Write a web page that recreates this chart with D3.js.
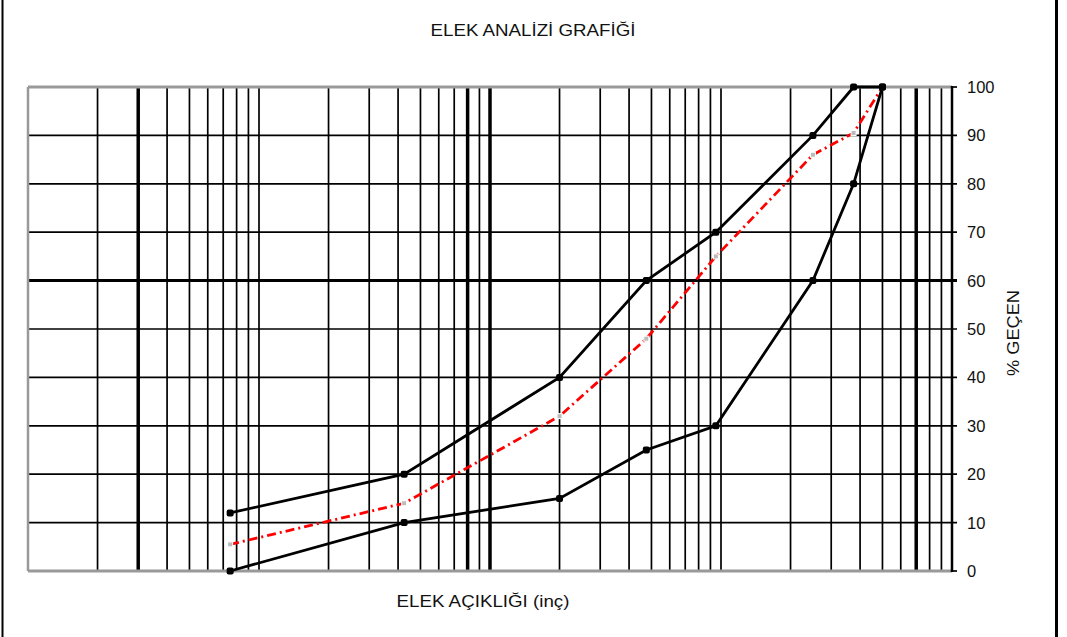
<!DOCTYPE html>
<html>
<head>
  <script src="https://d3js.org/d3.v7.min.js"></script>
  <meta charset="utf-8">
  <title>Elek analizi</title>
  <style>
    body { margin: 0; background: #fff; }
    text { font-family: "Liberation Sans", Arial, sans-serif; fill: #111; }
  </style>
</head>
<body>
<script>
  // sieve openings (mm) and % passing
  var sieves = [0.075, 0.425, 2, 4.75, 9.5, 25, 37.5, 50];
  var upper  = [12, 20, 40, 60, 70, 90, 100, 100];
  var lower  = [0, 10, 15, 25, 30, 60, 80, 100];
  var sample = [5.5, 14, 32, 48, 65, 86, 90.5, 100];

  var yTicks = [0, 10, 20, 30, 40, 50, 60, 70, 80, 90, 100];
  var thickX = [0.03, 0.8, 1, 70];
  var thickY = 60;

  var width = 1067, height = 637;
  var plot = { left: 28, right: 952, top: 87, bottom: 571 };

  var svg = d3.select("body")
              .append("svg")
              .attr("width", width)
              .attr("height", height);

  var x = d3.scaleLog()
            .domain([0.01, 100])
            .range([plot.left, plot.right]);

  var y = d3.scaleLinear()
            .domain([0, 100])
            .range([plot.bottom, plot.top]);

  // outer frame (left / right only visible)
  svg.append("line")
     .attr("x1", 2.5).attr("x2", 2.5).attr("y1", 0).attr("y2", height)
     .style("stroke", "#000").style("stroke-width", 2);
  svg.append("line")
     .attr("x1", 1056.5).attr("x2", 1056.5).attr("y1", 0).attr("y2", height)
     .style("stroke", "#000").style("stroke-width", 3);

  // vertical log grid
  var xGrid = x.ticks().filter(function(d){ return d < 100; });
  svg.selectAll(".vgrid")
     .data(xGrid)
     .enter()
     .append("line")
     .classed("vgrid", true)
     .attr("x1", function(d){ return x(d); })
     .attr("x2", function(d){ return x(d); })
     .attr("y1", plot.top)
     .attr("y2", plot.bottom)
     .style("stroke", "#000")
     .style("stroke-width", function(d){
       var thick = thickX.some(function(t){ return Math.abs(t - d) / t < 1e-6; });
       return thick ? 3.5 : 1.7;
     });

  // horizontal grid + right ticks
  svg.selectAll(".hgrid")
     .data(yTicks.filter(function(d){ return d > 0 && d < 100; }))
     .enter()
     .append("line")
     .classed("hgrid", true)
     .attr("x1", plot.left)
     .attr("x2", plot.right + 5)
     .attr("y1", function(d){ return y(d); })
     .attr("y2", function(d){ return y(d); })
     .style("stroke", "#000")
     .style("stroke-width", function(d){ return d == thickY ? 3 : 1.7; });

  // grey plot borders
  svg.append("line")
     .attr("x1", plot.left).attr("x2", plot.right)
     .attr("y1", y(100)).attr("y2", y(100))
     .style("stroke", "#999").style("stroke-width", 3);
  svg.append("line")
     .attr("x1", plot.left).attr("x2", plot.right)
     .attr("y1", y(0)).attr("y2", y(0))
     .style("stroke", "#999").style("stroke-width", 3);
  svg.append("line")
     .attr("x1", plot.left).attr("x2", plot.left)
     .attr("y1", plot.top).attr("y2", plot.bottom)
     .style("stroke", "#999").style("stroke-width", 2.5);

  // right axis
  svg.append("line")
     .attr("x1", plot.right).attr("x2", plot.right)
     .attr("y1", plot.top - 1).attr("y2", plot.bottom + 1)
     .style("stroke", "#000").style("stroke-width", 2.5);
  svg.selectAll(".ytick")
     .data([0, 100])
     .enter()
     .append("line")
     .attr("x1", plot.right).attr("x2", plot.right + 5)
     .attr("y1", function(d){ return y(d); })
     .attr("y2", function(d){ return y(d); })
     .style("stroke", "#000").style("stroke-width", 1.7);

  svg.selectAll(".ylabel")
     .data(yTicks)
     .enter()
     .append("text")
     .attr("x", 967)
     .attr("y", function(d){ return y(d); })
     .attr("dy", "0.36em")
     .style("font-size", "16.5px")
     .text(function(d){ return d; });

  // curves
  var pts = function(vals){
    return sieves.map(function(s, i){ return [s, vals[i]]; });
  };
  var line = d3.line()
               .x(function(d){ return x(d[0]); })
               .y(function(d){ return y(d[1]); });

  // sample curve first, limits on top
  svg.append("path")
     .datum(pts(sample))
     .attr("d", line)
     .style("fill", "none")
     .style("stroke", "#f00")
     .style("stroke-width", 2.8)
     .style("stroke-dasharray", "9,4,2,4");
  svg.selectAll(null)
     .data(pts(sample))
     .enter()
     .append("rect")
     .attr("x", function(d){ return x(d[0]) - 2.5; })
     .attr("y", function(d){ return y(d[1]) - 2.5; })
     .attr("width", 5)
     .attr("height", 5)
     .style("fill", "#bbb")
     .style("stroke", "#fff")
     .style("stroke-width", 1);

  [upper, lower].forEach(function(vals){
    svg.append("path")
       .datum(pts(vals))
       .attr("d", line)
       .style("fill", "none")
       .style("stroke", "#000")
       .style("stroke-width", 2.8);
    svg.selectAll(null)
       .data(pts(vals))
       .enter()
       .append("rect")
       .attr("x", function(d){ return x(d[0]) - 3.5; })
       .attr("y", function(d){ return y(d[1]) - 3.5; })
       .attr("width", 7)
       .attr("height", 7)
       .attr("rx", 2)
       .style("fill", "#000");
  });

  // titles
  svg.append("text")
     .attr("x", 533)
     .attr("y", 36)
     .attr("text-anchor", "middle")
     .attr("textLength", 205)
     .attr("lengthAdjust", "spacingAndGlyphs")
     .style("font-size", "17px")
     .text("ELEK ANALİZİ GRAFİĞİ");

  svg.append("text")
     .attr("x", 483)
     .attr("y", 607)
     .attr("text-anchor", "middle")
     .attr("textLength", 173)
     .attr("lengthAdjust", "spacingAndGlyphs")
     .style("font-size", "17px")
     .text("ELEK AÇIKLIĞI (inç)");

  svg.append("text")
     .attr("transform", "translate(1019,333) rotate(-90)")
     .attr("text-anchor", "middle")
     .attr("textLength", 86)
     .attr("lengthAdjust", "spacingAndGlyphs")
     .style("font-size", "17px")
     .text("% GEÇEN");
</script>
</body>
</html>
